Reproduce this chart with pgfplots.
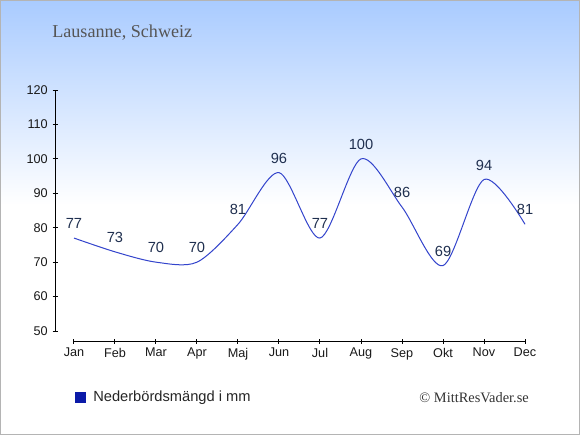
\documentclass[border=0pt]{standalone}
\usepackage{pgfplots}
\pgfplotsset{compat=1.18}
\usepackage{fontspec}
\setmainfont{Liberation Sans}
\newfontfamily\seriffont{Liberation Serif}
\definecolor{bgtop}{HTML}{A9CBFF}
\definecolor{linec}{HTML}{3344CC}
\definecolor{labc}{HTML}{1F2F4F}
\definecolor{legc}{HTML}{0B1AA8}
\definecolor{bord}{HTML}{B4B4B4}
\definecolor{titc}{HTML}{555555}
\begin{document}
\begin{tikzpicture}
\begin{scope}[x=0.75pt,y=-0.75pt]
\shade[top color=bgtop,bottom color=white] (0,0) rectangle (580,205);
\fill[white] (0,205) rectangle (580,435);
\draw[bord,line width=0.75pt] (0.5,0.5) rectangle (579.5,434.5);
\node[anchor=base west,text=titc,font=\seriffont\fontsize{13.6}{15}\selectfont,inner sep=0] at (52,38) {Lausanne, Schweiz};
\fill[legc] (75,392) rectangle (86,403);
\node[anchor=west,text=black!85,font=\fontsize{11}{13}\selectfont,inner sep=0] at (93,398) {Nederbördsmängd i mm};
\node[anchor=east,text=black!80,font=\seriffont\fontsize{10.8}{13}\selectfont,inner sep=0] at (529,398) {© MittResVader.se};
\end{scope}
\begin{axis}[
  at={(41.25pt,-255.75pt)}, anchor=south west,
  scale only axis, width=352.5pt, height=188.25pt,
  xmin=-0.463, xmax=11, ymin=47.1, ymax=120,
  axis line style={draw=none},
  clip=false,
  xtick={0,...,11},
  xticklabels={Jan,Feb,Mar,Apr,Maj,Jun,Jul,Aug,Sep,Okt,Nov,Dec},
  ytick={50,60,...,120},
  xtick pos=bottom, ytick pos=left,
  tick align=center,
  major tick length=3.75pt,
  tick style={black,line width=0.75pt},
  /pgf/number format/assume math mode=true,
  tick label style={font=\fontsize{9.5}{11}\selectfont, text=black!90},
]
\draw[black,line width=0.75pt] (axis cs:-0.463,50) -- (axis cs:-0.463,120);
\draw[black,line width=0.75pt] (axis cs:0,47.1) -- (axis cs:11,47.1);
\addplot[linec, line width=0.75pt, smooth, tension=0.5,
  nodes near coords,
  every node near coord/.style={anchor=south, inner sep=0pt, yshift=6.5pt, text=labc, font=\fontsize{11}{13}\selectfont},
] coordinates {
(0,77) (1,73) (2,70) (3,70) (4,81) (5,96) (6,77) (7,100) (8,86) (9,69) (10,94) (11,81)
};
\end{axis}
\end{tikzpicture}
\end{document}
